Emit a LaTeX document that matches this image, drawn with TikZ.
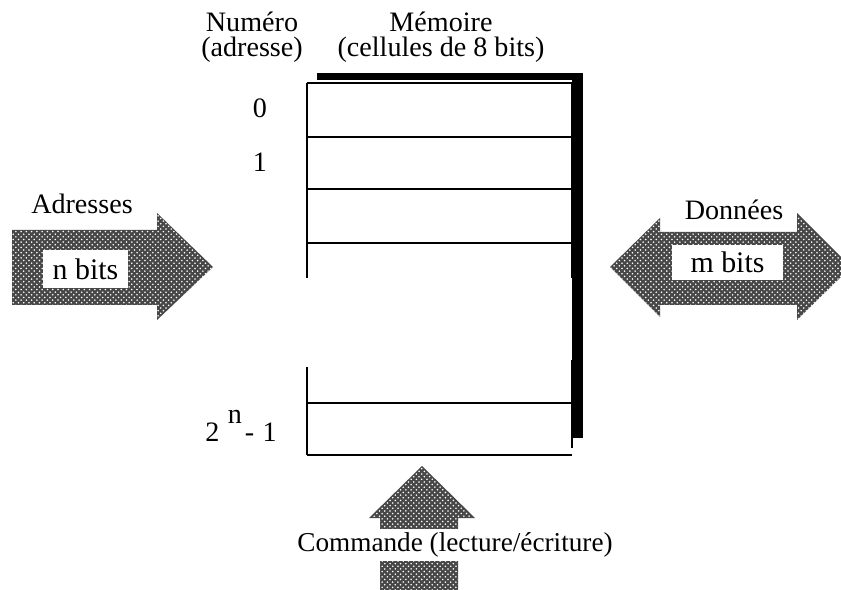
\documentclass[tikz,border=0pt]{standalone}
\usepackage{fontspec}
\setmainfont{Liberation Serif}
\usepackage{tikz}
\usetikzlibrary{patterns}
\tikzstyle{caption} = [align=center, inner sep=0pt, font=\fontsize{16}{14.5}\selectfont]
\tikzstyle{cellno} = [inner sep=0pt, font=\fontsize{16}{16}\selectfont]
\tikzstyle{bitbox} = [fill=white, inner sep=0pt, font=\fontsize{17}{17}\selectfont]
\tikzstyle{busarrow} = [fill=black!72, postaction={pattern=crosshatch dots, pattern color=white}]
\tikzstyle{cellline} = [line width=1.1pt]

\begin{document}
\begin{tikzpicture}[x=0.02cm, y=-0.02cm]
    \useasboundingbox (0,0) rectangle (841,590);
    \clip (0,0) rectangle (841,590);

    % Memory block and its shadow
    \fill (317,73) rectangle (583,438);
    \fill[white] (305,80) rectangle (572,460);
    \draw[cellline] (307,83) -- (572,83);
    \foreach \y in {137,189,243,403}
        \draw[cellline] (307,\y) -- (572,\y);
    \draw[cellline] (307,455) -- (572,455);
    \draw[cellline] (307,83) -- (307,278) (307,367) -- (307,455);
    \draw[cellline] (572,83) -- (572,278) (572,360) -- (572,448);

    % Nodes
    \node (numero) [caption] at (252,37) {Numéro\\(adresse)};
    \node (memoire) [caption] at (441,37) {Mémoire\\(cellules de 8 bits)};
    \node (cell0) [cellno] at (260,108) {0};
    \node (cell1) [cellno] at (260,162) {1};
    \node (celllast) [cellno, anchor=base] at (241,442)
        {2\hspace{0.3em}\raisebox{0.65em}{n}\hspace{0.1em}-\hspace{0.3em}1};

    % Bus arrows
    \fill[busarrow] (12,230) -- (157,230) -- (157,213) -- (213,267) -- (157,320) -- (157,305) -- (12,305) -- cycle;
    \node (adresses) [caption] at (82,204) {Adresses};
    \node (nbits) [bitbox, minimum width=1.7cm, minimum height=0.76cm] at (85.5,269) {n bits};

    \fill[busarrow] (610,267) -- (660,218) -- (660,232) -- (797,232) -- (797,213) -- (851,267) -- (797,320) -- (797,305) -- (660,305) -- (660,317) -- cycle;
    \node (donnees) [caption] at (734,210) {Données};
    \node (mbits) [bitbox, minimum width=2.22cm, minimum height=0.7cm] at (727.5,262.5) {m bits};

    \fill[busarrow] (369,518) -- (422,466) -- (475,518) -- (458,518) -- (458,590) -- (380,590) -- (380,518) -- cycle;
    \node (commande) [caption, fill=white, minimum height=0.64cm, font=\fontsize{15.5}{15}\selectfont] at (455,545) {Commande (lecture/écriture)};

\end{tikzpicture}
\end{document}
